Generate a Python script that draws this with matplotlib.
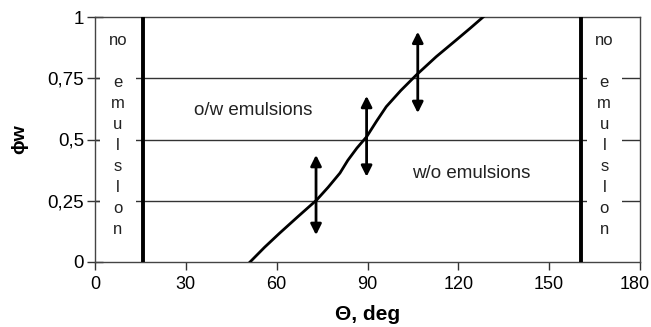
import matplotlib
matplotlib.use("Agg")
import matplotlib.pyplot as plt
import matplotlib.transforms as mtransforms

plt.rcParams['font.family'] = ['Liberation Sans', 'DejaVu Sans']

# curve
theta = [51.2, 56, 61, 67, 73.2, 77, 80.9, 83.5, 86.5, 89.7, 93, 96.2, 101, 106.1, 112.7, 119.3, 124, 128.2]
phi_w = [0.0, 0.06, 0.118, 0.185, 0.253, 0.305, 0.363, 0.415, 0.465, 0.511, 0.575, 0.634, 0.7, 0.763, 0.838, 0.906, 0.955, 1.0]

# double arrows: x, bottom, top
arrow_x = [73, 89.7, 106.6]
arrow_lo = [0.11, 0.348, 0.608]
arrow_hi = [0.437, 0.678, 0.94]

boundary_left = 15.8
boundary_right = 160.5
grid_levels = [0.25, 0.5, 0.75]

xticks = [0, 30, 60, 90, 120, 150, 180]
yticks = [0, 0.25, 0.5, 0.75, 1]
ytick_labels = ['0', '0,25', '0,5', '0,75', '1']

fig = plt.figure(figsize=(6.51, 3.27), dpi=100)
ax = fig.add_axes([95/651, 65/327, 545/651, 245/327])

for lev in grid_levels:
    ax.axhline(lev, color='#333333', lw=1, zorder=1)

ax.axvline(boundary_left, color='black', lw=2.8, zorder=3)
ax.axvline(boundary_right, color='black', lw=2.8, zorder=3)

ax.plot(theta, phi_w, color='black', lw=2, zorder=4)

for x, lo, hi in zip(arrow_x, arrow_lo, arrow_hi):
    ax.annotate('', xy=(x, hi), xytext=(x, lo),
                arrowprops=dict(arrowstyle='<|-|>', color='black', lw=2,
                                mutation_scale=16, shrinkA=0, shrinkB=0),
                zorder=5)

no_em = 'no\n\ne\nm\nu\nl\ns\nl\no\nn'
for xc in [7.6, 168.2]:
    ax.text(xc, 0.935, no_em, ha='center', va='top', fontsize=12, linespacing=1.5,
            color='#222222', zorder=2,
            bbox=dict(facecolor='white', edgecolor='none', pad=6))

ax.text(52.1, 0.62, 'o/w emulsions', ha='center', va='center', fontsize=13.5, color='#222222')
ax.text(124.4, 0.363, 'w/o emulsions', ha='center', va='center', fontsize=13.5, color='#222222')

ax.set_xlim(0, 180)
ax.set_ylim(0, 1)
ax.set_xticks(xticks)
ax.set_yticks(yticks)
ax.set_yticklabels(ytick_labels)
ax.tick_params(axis='x', direction='out', length=6, width=1, labelsize=13, color='#333333', pad=4)
ax.tick_params(axis='y', direction='inout', length=12, width=1, labelsize=13.5, color='#333333', pad=2)
for sp in ax.spines.values():
    sp.set_color('#444444')
    sp.set_linewidth(1)

# nudge last x label left so it stays inside the figure
last = ax.get_xticklabels()[-1]
last.set_transform(last.get_transform() + mtransforms.ScaledTranslation(-5/100, 0, fig.dpi_scale_trans))

ax.set_xlabel('Θ, deg', fontsize=15, fontweight='bold', labelpad=9)
ax.set_ylabel('ϕw', fontsize=14, fontweight='bold', labelpad=14)

plt.savefig('out.png', dpi=100)
